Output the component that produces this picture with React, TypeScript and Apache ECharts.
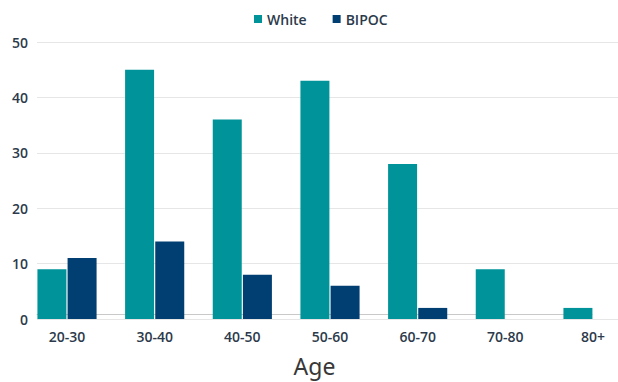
import React, { useEffect, useRef } from "react";
import * as echarts from "echarts";

// Age bands and counts per group
const ageBands = ["20-30", "30-40", "40-50", "50-60", "60-70", "70-80", "80+"];
const whiteCounts = [9, 45, 36, 43, 28, 9, 2];
const bipocCounts = [11, 14, 8, 6, 2, 0, 0];
const seriesNames = ["White", "BIPOC"];
const yMax = 50;
const yStep = 10;

const TEAL = "#00949a";
const NAVY = "#013e72";
const TEXT = "#2c3a4b";
const FONT = "'Open Sans', sans-serif";

export default function App() {
  const ref = useRef<HTMLDivElement>(null);

  useEffect(() => {
    document.body.style.margin = "0";
    if (!ref.current) return;
    const chart = echarts.init(ref.current, null, { renderer: "svg" });

    const top = 42;
    const bottom = 63;

    chart.setOption({
      animation: false,
      textStyle: { fontFamily: FONT },
      legend: {
        data: seriesNames,
        left: 249,
        top: 7,
        icon: "rect",
        itemWidth: 8,
        itemHeight: 8,
        itemGap: 26,
        textStyle: { color: TEXT, fontSize: 14, fontWeight: 600, fontFamily: FONT },
      },
      grid: [
        // bars: group centres sit on the category positions
        { left: 67, width: 526, top, bottom },
        // value gridlines
        { left: 37, right: 0, top, bottom },
        // baseline and axis title
        { left: 37, width: 555, top, bottom },
      ],
      xAxis: [
        {
          type: "category",
          gridIndex: 0,
          data: ageBands,
          boundaryGap: false,
          axisLine: { show: false },
          axisTick: { show: false },
          splitLine: { show: false },
          axisLabel: { color: TEXT, fontSize: 14, fontWeight: 600, margin: 10, fontFamily: FONT },
        },
        { type: "value", gridIndex: 1, min: 0, max: 1, show: false },
        {
          type: "value",
          gridIndex: 2,
          min: 0,
          max: 1,
          axisLine: { show: true, lineStyle: { color: "#c9c9c9", width: 1 } },
          axisTick: { show: false },
          axisLabel: { show: false },
          splitLine: { show: false },
          name: "Age",
          nameLocation: "middle",
          nameGap: 40,
          nameTextStyle: { color: "#383838", fontSize: 23, fontWeight: 400, fontFamily: "'Noto Sans', sans-serif" },
        },
      ],
      yAxis: [
        { type: "value", gridIndex: 0, min: 0, max: yMax, interval: yStep, show: false },
        {
          type: "value",
          gridIndex: 1,
          min: 0,
          max: yMax,
          interval: yStep,
          axisLine: { show: false },
          axisTick: { show: false },
          axisLabel: { color: TEXT, fontSize: 14, fontWeight: 600, margin: 9, fontFamily: FONT },
          splitLine: { lineStyle: { color: "#e6e6e6", width: 1 } },
        },
        { type: "value", gridIndex: 2, min: 0, max: yMax, show: false },
      ],
      series: [
        {
          name: seriesNames[0],
          type: "bar",
          xAxisIndex: 0,
          yAxisIndex: 0,
          data: whiteCounts,
          barWidth: 29,
          barGap: "4%",
          clip: false,
          itemStyle: { color: TEAL },
        },
        {
          name: seriesNames[1],
          type: "bar",
          xAxisIndex: 0,
          yAxisIndex: 0,
          data: bipocCounts,
          barWidth: 29,
          barGap: "4%",
          clip: false,
          itemStyle: { color: NAVY },
        },
      ],
    });

    return () => chart.dispose();
  }, []);

  return <div ref={ref} style={{ width: 618, height: 382 }} />;
}
